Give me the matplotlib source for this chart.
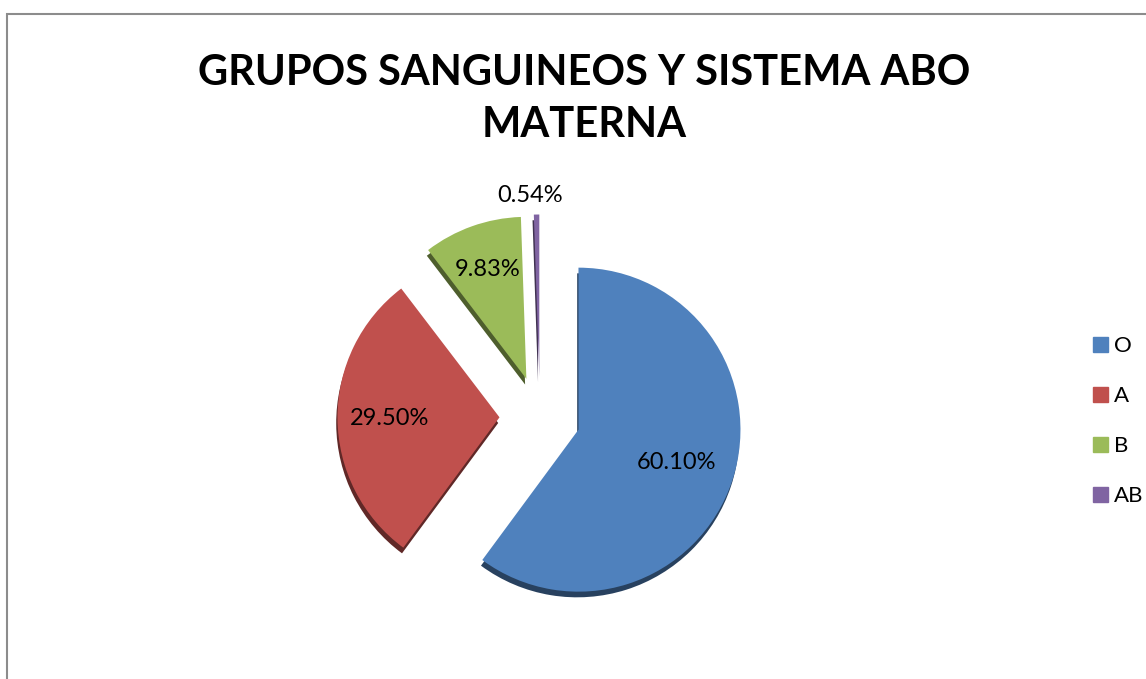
# Grupos sanguineos y sistema ABO materna - grafico de pastel
import matplotlib.pyplot as plt
from matplotlib.patches import Rectangle
from matplotlib.colors import to_rgb
import numpy as np

# datos
grupos = ['O', 'A', 'B', 'AB']
porcentajes = [60.10, 29.50, 9.83, 0.54]
etiquetas = ['60.10%', '29.50%', '9.83%', '0.54%']
colores = ['#4F81BD', '#C0504D', '#9BBB59', '#8064A2']
separacion = [0.25, 0.25, 0.25, 0.25]

plt.rcParams['font.family'] = ['Lato', 'DejaVu Sans']

fig = plt.figure(figsize=(11.46, 6.79), dpi=100)

# marco gris del area del grafico
fig.patches.append(Rectangle((7 / 1146, -0.1), 1.2, 1 - 14 / 679 + 0.1,
                             transform=fig.transFigure, fill=False,
                             edgecolor='#8c8c8c', lw=1.5))

fig.text(0.51, 1 - 99 / 679, 'GRUPOS SANGUINEOS Y SISTEMA ABO\nMATERNA', ha='center', va='center',
         fontsize=30, fontweight='bold', linespacing=1.45)

# ejes del pastel: centro en (540, 417) px, radio 162 px
lado = 500
ax = fig.add_axes([(540 - lado / 2) / 1146, (679 - 417 - lado / 2) / 679, lado / 1146, lado / 679])

# sombra (efecto 3D)
oscuros = [tuple(c * 0.5 for c in to_rgb(col)) for col in colores]
ax.pie(porcentajes, colors=oscuros, explode=separacion, startangle=90, counterclock=False,
       center=(-0.008, -0.035), wedgeprops=dict(linewidth=0))

cunas, textos = ax.pie(porcentajes, colors=colores, explode=separacion, startangle=90,
                       counterclock=False, wedgeprops=dict(linewidth=0))

lim = (lado / 2) / 162
ax.set_xlim(-lim, lim)
ax.set_ylim(-lim, lim)
ax.set_aspect('equal')
ax.axis('off')

# etiquetas de porcentaje
total = sum(porcentajes)
ang = 90.0
dist = [0.64, 0.68, 0.72, 1.12]
for i, p in enumerate(porcentajes):
    medio = np.deg2rad(ang - p / total * 180)
    ang -= p / total * 360
    r = separacion[i] + dist[i]
    dx = -0.04 if i == 3 else 0
    ax.text(r * np.cos(medio) + dx, r * np.sin(medio), etiquetas[i], ha='center', va='center',
            fontsize=17)

# leyenda
handles = [Rectangle((0, 0), 1, 1, color=c) for c in colores]
fig.legend(handles, grupos, loc='center left', bbox_to_anchor=(1082 / 1146, 1 - 421 / 679),
           frameon=False, fontsize=16, handlelength=0.65, handleheight=0.65,
           handletextpad=0.3, labelspacing=1.35, borderpad=0)

plt.savefig('out.png', dpi=100)
